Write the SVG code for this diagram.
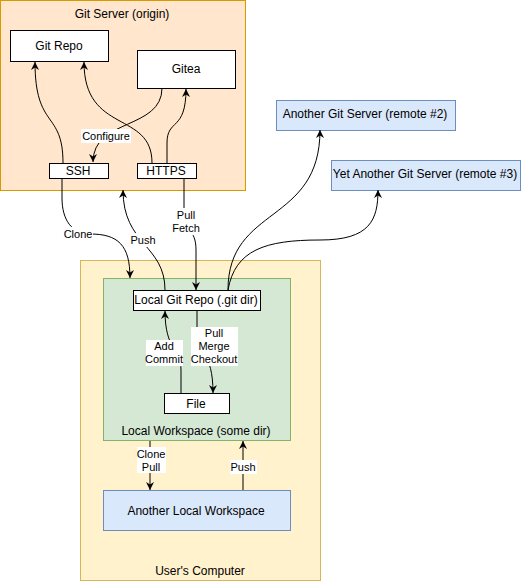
<svg xmlns="http://www.w3.org/2000/svg" width="521" height="581" viewBox="0 0 521 581">
<style>
text{font-family:"Liberation Sans",Arial,sans-serif;font-size:12px;fill:#000;text-anchor:middle;dominant-baseline:central}
.el{font-size:11px}
.box{fill:#fff;stroke:#000;stroke-width:1}
.blue{fill:#dae8fc;stroke:#6c8ebf}
.edge{fill:none;stroke:#000;stroke-width:1}
.lbg{fill:#fff}
</style>
<defs>
<marker id="arr" viewBox="0 0 10 10" refX="10" refY="5" markerWidth="8" markerHeight="8" markerUnits="userSpaceOnUse" orient="auto">
<path d="M0,0 L10,5 L0,10 L3,5 Z" fill="#000"/>
</marker>
</defs>
<rect width="521" height="581" fill="#fff"/>
<g id="git-server">
<rect x="0.5" y="0.5" width="245" height="190" fill="#ffe6cc" stroke="#d79b00"/>
<text x="122" y="14">Git Server (origin)</text>
</g>
<g id="users-computer">
<rect x="80.5" y="260.5" width="240" height="320" fill="#fff2cc" stroke="#d6b656"/>
<text x="200" y="571">User's Computer</text>
</g>
<g id="local-workspace">
<rect x="103.5" y="278.5" width="187" height="162" fill="#d5e8d4" stroke="#82b366"/>
<text x="196" y="431">Local Workspace (some dir)</text>
</g>
<g id="git-repo">
<rect class="box" x="10.5" y="30.5" width="98" height="31"/>
<text x="59" y="46">Git Repo</text>
</g>
<g id="gitea">
<rect class="box" x="137.5" y="50.5" width="98" height="38"/>
<text x="186" y="69">Gitea</text>
</g>
<g id="ssh">
<rect class="box" x="49.5" y="163.5" width="59" height="15"/>
<text x="78" y="171">SSH</text>
</g>
<g id="https">
<rect class="box" x="137.5" y="163.5" width="59" height="15"/>
<text x="166" y="171">HTTPS</text>
</g>
<g id="remote2">
<rect class="blue" x="276.5" y="100.5" width="179" height="30"/>
<text x="365" y="114">Another Git Server (remote #2)</text>
</g>
<g id="remote3">
<rect class="blue" x="331.5" y="160.5" width="189" height="30"/>
<text x="425" y="174">Yet Another Git Server (remote #3)</text>
</g>
<g id="local-git-repo">
<rect class="box" x="133.5" y="290.5" width="127" height="20"/>
<text x="196" y="300">Local Git Repo (.git dir)</text>
</g>
<g id="file">
<rect class="box" x="164.5" y="393.5" width="65" height="20"/>
<text x="196" y="404">File</text>
</g>
<g id="another-local-workspace">
<rect class="blue" x="103.5" y="490.5" width="187" height="40"/>
<text x="196" y="511">Another Local Workspace</text>
</g>
<g id="connectors">
<path class="edge" marker-end="url(#arr)" d="M63,163 C63,110 35,130 35,62"/>
<path class="edge" marker-end="url(#arr)" d="M152,163 C152,110 84,135 84,62"/>
<path class="edge" marker-end="url(#arr)" d="M167,163 L167,143 C167,118 186,132 186,89"/>
<path class="edge" marker-end="url(#arr)" d="M162,88 C162,130 93,118 93,162"/>
<path class="edge" marker-end="url(#arr)" d="M62,178 L62,198 C62,220 72,234 90,234 C118,234 130,245 130,278"/>
<path class="edge" marker-end="url(#arr)" d="M165,290 C165,245 123,245 123,190"/>
<path class="edge" marker-end="url(#arr)" d="M184,178 L184,212 C184,232 196,228 196,250 L196,290"/>
<path class="edge" marker-end="url(#arr)" d="M228,290 C228,205 320,225 320,130"/>
<path class="edge" marker-end="url(#arr)" d="M228,290 C235,250 265,240 320,240 C370,240 378,220 378,190"/>
<path class="edge" marker-end="url(#arr)" d="M181,393 L181,370 C181,350 165,350 165,311"/>
<path class="edge" marker-end="url(#arr)" d="M197,311 L197,330 C197,355 213,350 213,393"/>
<path class="edge" marker-end="url(#arr)" d="M150,441 L150,490"/>
<path class="edge" marker-end="url(#arr)" d="M243,490 L243,441"/>
<rect class="lbg" x="81" y="129" width="50" height="14"/>
<text class="el" x="106" y="136">Configure</text>
<rect class="lbg" x="63" y="227" width="30" height="14"/>
<text class="el" x="78" y="234">Clone</text>
<rect class="lbg" x="130" y="233" width="27" height="14"/>
<text class="el" x="143" y="240">Push</text>
<rect class="lbg" x="172" y="208" width="28" height="27"/>
<text class="el" x="186" y="215">Pull</text>
<text class="el" x="186" y="228">Fetch</text>
<rect class="lbg" x="146" y="340" width="37" height="26"/>
<text class="el" x="164" y="346">Add</text>
<text class="el" x="164" y="359">Commit</text>
<rect class="lbg" x="191" y="327" width="47" height="39"/>
<text class="el" x="214" y="333">Pull</text>
<text class="el" x="214" y="346">Merge</text>
<text class="el" x="214" y="359">Checkout</text>
<rect class="lbg" x="137" y="447" width="29" height="26"/>
<text class="el" x="151" y="454">Clone</text>
<text class="el" x="151" y="467">Pull</text>
<rect class="lbg" x="230" y="460" width="27" height="14"/>
<text class="el" x="243" y="467">Push</text>
</g>
</svg>
